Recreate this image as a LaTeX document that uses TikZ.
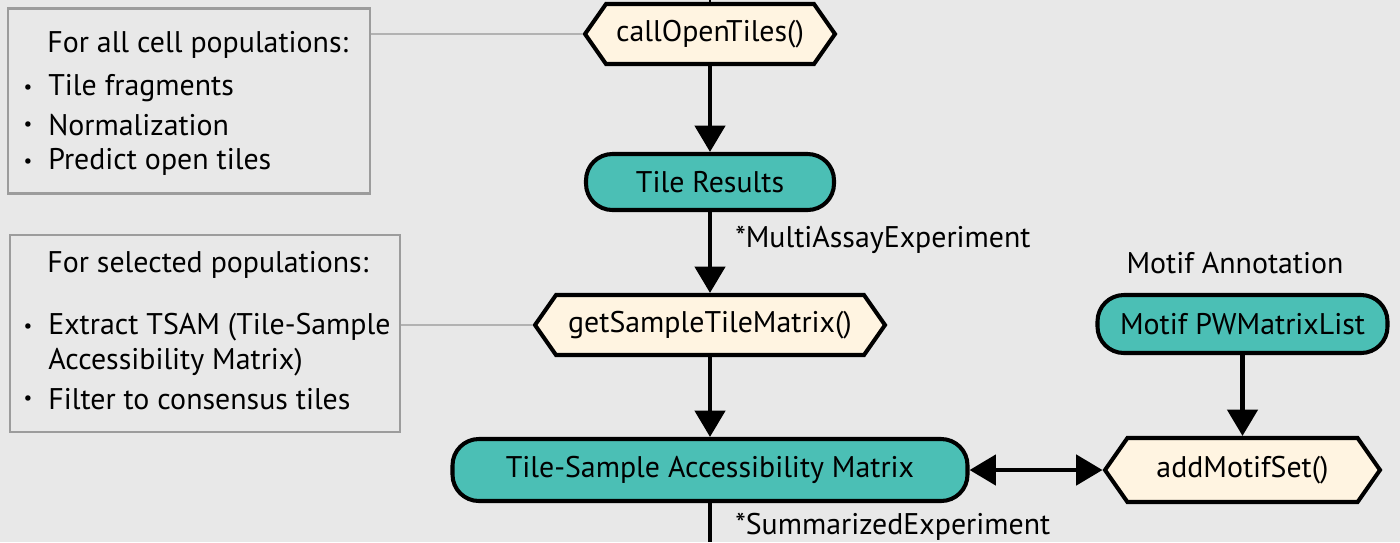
\documentclass[tikz,border=0pt]{standalone}
\usepackage{fontspec}
\setmainfont{PT Sans}
\usepackage{xcolor}
\usetikzlibrary{shapes.symbols,arrows.meta}

\definecolor{bggray}{HTML}{E8E8E8}
\definecolor{boxgray}{HTML}{9C9C9C}
\definecolor{linkgray}{HTML}{B2B2B2}
\definecolor{tealfill}{HTML}{4BBFB5}
\definecolor{creamfill}{HTML}{FFF4E1}

\tikzset{
    txt/.style = {font = \fontsize{17}{20}\selectfont, inner sep=0pt},
    dot/.style = {font = \fontsize{11}{13}\selectfont, inner sep=0pt},
    func/.style = {txt, signal, signal to=west and east, signal pointer angle=110,
                   draw, line width=2.3pt, fill=creamfill},
    data/.style = {txt, draw, line width=2.3pt, fill=tealfill, rounded corners=15pt},
    flow/.style = {line width=2.8pt, -{Triangle[width=17pt,length=15pt]}},
    note/.style = {draw=boxgray, line width=1.2pt, fill=bggray},
    link/.style = {draw=linkgray, line width=1.2pt},
}

\begin{document}
\begin{tikzpicture}

    % \draw [help lines, step = 1] (0,0) grid (28,-10.84);
    \fill [bggray] (0,0) rectangle (28,-10.84);
    \useasboundingbox (0,0) rectangle (28,-10.84);

    % note boxes on the left
    \node [note, minimum width=7.24cm, minimum height=3.7cm] (allbox) at (3.78,-2.02) {};
    \node [note, minimum width=7.8cm, minimum height=3.94cm] (selbox) at (4.1,-6.67) {};

    \node [txt, anchor=west] (allhead) at (0.94,-0.9) {For all cell populations:};
    \node [dot] (allb1) at (0.56,-1.78) {•};
    \node [dot] (allb2) at (0.56,-2.52) {•};
    \node [dot] (allb3) at (0.56,-3.26) {•};
    \node [txt, anchor=west] (allt1) at (0.96,-1.76) {Tile fragments};
    \node [txt, anchor=west] (allt2) at (0.96,-2.5) {Normalization};
    \node [txt, anchor=west] (allt3) at (0.96,-3.24) {Predict open tiles};

    \node [txt, anchor=west] (selhead) at (0.94,-5.3) {For selected populations:};
    \node [dot] (selb1) at (0.56,-6.56) {•};
    \node [dot] (selb2) at (0.56,-8.0) {•};
    \node [txt, anchor=west] (selt1) at (0.96,-6.54) {Extract TSAM (Tile-Sample};
    \node [txt, anchor=west] (selt2) at (0.96,-7.24) {Accessibility Matrix)};
    \node [txt, anchor=west] (selt3) at (0.96,-7.98) {Filter to consensus tiles};

    % main column
    \node [func, minimum width=5cm, minimum height=1.2cm] (call) at (14.2,-0.68) {callOpenTiles()};
    \node [data, minimum width=4.96cm, minimum height=1.12cm] (tiles) at (14.2,-3.64) {Tile Results};
    \node [func, minimum width=7cm, minimum height=1.2cm] (getmat) at (14.2,-6.5) {getSampleTileMatrix()};
    \node [data, minimum width=10.3cm, minimum height=1.24cm] (tsam) at (14.2,-9.4) {Tile-Sample Accessibility Matrix};

    % motif side
    \node [txt] (motifhead) at (24.7,-5.26) {Motif Annotation};
    \node [data, minimum width=5.8cm, minimum height=1.16cm] (pwm) at (24.85,-6.48) {Motif PWMatrixList};
    \node [func, minimum width=5.5cm, minimum height=1.28cm] (addmotif) at (24.85,-9.4) {addMotifSet()};

    % class labels
    \node [txt, anchor=west] (multi) at (14.7,-4.8) {*MultiAssayExperiment};
    \node [txt, anchor=west] (summ) at (14.7,-10.54) {*SummarizedExperiment};

    % ends that leave the picture
    \coordinate (topin) at (14.2,0);
    \coordinate (botout) at (14.2,-10.84);

    % connectors
    \draw [link] (allbox.east |- call.west) -- (call.west);
    \draw [link] (selbox.east |- getmat.west) -- (getmat.west);

    \draw [line width=1.2pt] (topin) -- (call.north);
    \draw [flow] (call.south) -- (tiles.north);
    \draw [flow] (tiles.south) -- (getmat.north);
    \draw [flow] (getmat.south) -- (tsam.north);
    \draw [line width=2.8pt] (tsam.south) -- (botout);

    \draw [flow] (pwm.south) -- (addmotif.north);
    \draw [line width=2.8pt, {Triangle[width=17pt,length=15pt]}-{Triangle[width=17pt,length=15pt]}] (tsam.east) -- (addmotif.west);

\end{tikzpicture}
\end{document}
